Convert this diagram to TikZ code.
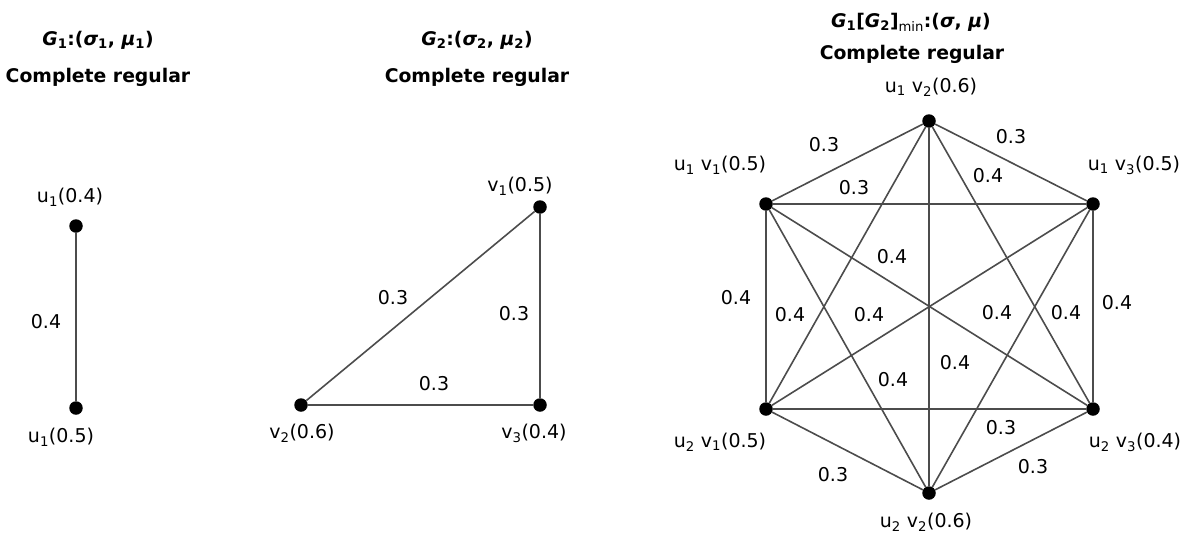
\documentclass[tikz,border=0pt]{standalone}
\usepackage{fontspec}
\setmainfont{DejaVu Sans}
\usetikzlibrary{positioning}
\tikzset{
    fuzzy title/.style={font=\fontsize{18.8}{21}\selectfont\bfseries, inner sep=0pt},
    fuzzy vertex/.style={circle, fill=black, inner sep=0pt, minimum size=13.5pt},
    fuzzy label/.style={font=\fontsize{19}{22}\selectfont, inner sep=0pt},
    fuzzy weight/.style={fuzzy label},
    fuzzy edge/.style={draw=black!70, line width=1.6pt}
}

\begin{document}
\begin{tikzpicture}[x=1pt, y=-1pt]
\useasboundingbox (0,0) rectangle (1184,541);

% G1 side
\node[fuzzy title] (t1) at (98,40) {\textit{G}\textsubscript{1}:(\textit{σ}\textsubscript{1}, \textit{μ}\textsubscript{1})};
\node[fuzzy title] (c1) at (98,77) {Complete regular};
\node[fuzzy vertex] (ua) at (76,226) {};
\node[fuzzy vertex] (ub) at (76,408) {};
\node[fuzzy label] (ual) at (70,197) {u\textsubscript{1}(0.4)};
\node[fuzzy label] (ubl) at (61,437) {u\textsubscript{1}(0.5)};
\draw[fuzzy edge] (ua) -- (ub);
\node[fuzzy weight] (wa) at (46,322) {0.4};

% G2 side
\node[fuzzy title] (t2) at (477,40) {\textit{G}\textsubscript{2}:(\textit{σ}\textsubscript{2}, \textit{μ}\textsubscript{2})};
\node[fuzzy title] (c2) at (477,77) {Complete regular};
\node[fuzzy vertex] (v1) at (540,207) {};
\node[fuzzy vertex] (v2) at (301,405) {};
\node[fuzzy vertex] (v3) at (540,405) {};
\node[fuzzy label] (v1l) at (520,186) {v\textsubscript{1}(0.5)};
\node[fuzzy label] (v2l) at (302,433) {v\textsubscript{2}(0.6)};
\node[fuzzy label] (v3l) at (534,433) {v\textsubscript{3}(0.4)};
\draw[fuzzy edge] (v1) -- (v2);
\draw[fuzzy edge] (v1) -- (v3);
\draw[fuzzy edge] (v2) -- (v3);
\node[fuzzy weight] (w12) at (393,298) {0.3};
\node[fuzzy weight] (w13) at (514,314) {0.3};
\node[fuzzy weight] (w23) at (434,384) {0.3};

% lexicographic min product
\node[fuzzy title] (t3) at (911,22) {\textit{G}\textsubscript{1}[\textit{G}\textsubscript{2}]\textsubscript{\mdseries min}:(\textit{σ}, \textit{μ})};
\node[fuzzy title] (c3) at (912,54) {Complete regular};
\node[fuzzy vertex] (p12) at (929,121) {};
\node[fuzzy vertex] (p11) at (766,204) {};
\node[fuzzy vertex] (p13) at (1093,204) {};
\node[fuzzy vertex] (p21) at (766,409) {};
\node[fuzzy vertex] (p23) at (1093,409) {};
\node[fuzzy vertex] (p22) at (929,493) {};
\node[fuzzy label] (p12l) at (931,87) {u\textsubscript{1} v\textsubscript{2}(0.6)};
\node[fuzzy label] (p11l) at (720,165) {u\textsubscript{1} v\textsubscript{1}(0.5)};
\node[fuzzy label] (p13l) at (1134,165) {u\textsubscript{1} v\textsubscript{3}(0.5)};
\node[fuzzy label] (p21l) at (720,442) {u\textsubscript{2} v\textsubscript{1}(0.5)};
\node[fuzzy label] (p23l) at (1135,442) {u\textsubscript{2} v\textsubscript{3}(0.4)};
\node[fuzzy label] (p22l) at (926,522) {u\textsubscript{2} v\textsubscript{2}(0.6)};
\draw[fuzzy edge] (p12) -- (p11);
\draw[fuzzy edge] (p12) -- (p13);
\draw[fuzzy edge] (p12) -- (p21);
\draw[fuzzy edge] (p12) -- (p23);
\draw[fuzzy edge] (p12) -- (p22);
\draw[fuzzy edge] (p11) -- (p13);
\draw[fuzzy edge] (p11) -- (p21);
\draw[fuzzy edge] (p11) -- (p23);
\draw[fuzzy edge] (p11) -- (p22);
\draw[fuzzy edge] (p13) -- (p21);
\draw[fuzzy edge] (p13) -- (p23);
\draw[fuzzy edge] (p13) -- (p22);
\draw[fuzzy edge] (p21) -- (p23);
\draw[fuzzy edge] (p21) -- (p22);
\draw[fuzzy edge] (p23) -- (p22);
\node[fuzzy weight] (q1) at (824,145) {0.3};
\node[fuzzy weight] (q2) at (1011,137) {0.3};
\node[fuzzy weight] (q3) at (854,188) {0.3};
\node[fuzzy weight] (q4) at (988,176) {0.4};
\node[fuzzy weight] (q5) at (892,257) {0.4};
\node[fuzzy weight] (q6) at (736,298) {0.4};
\node[fuzzy weight] (q7) at (790,315) {0.4};
\node[fuzzy weight] (q8) at (869,315) {0.4};
\node[fuzzy weight] (q9) at (997,313) {0.4};
\node[fuzzy weight] (q10) at (1066,313) {0.4};
\node[fuzzy weight] (q11) at (1117,303) {0.4};
\node[fuzzy weight] (q12) at (955,363) {0.4};
\node[fuzzy weight] (q13) at (893,380) {0.4};
\node[fuzzy weight] (q14) at (1001,428) {0.3};
\node[fuzzy weight] (q15) at (833,475) {0.3};
\node[fuzzy weight] (q16) at (1033,467) {0.3};
\end{tikzpicture}
\end{document}
